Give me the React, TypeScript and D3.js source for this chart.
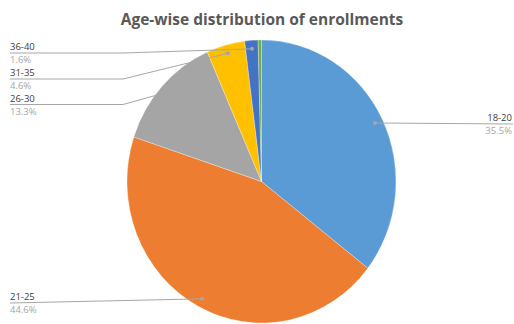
import React from "react";
import * as d3 from "d3";

const categories = ["18-20", "21-25", "26-30", "31-35", "36-40", "41+"];
const values = [35.5, 44.6, 13.3, 4.6, 1.6, 0.4];
const showLabel = [true, true, true, true, true, false];
const colors = ["#5b9bd5", "#ed7d31", "#a5a5a5", "#ffc000", "#4472c4", "#70ad47"];

// label layout: line y, side
const labelLayout: Record<string, { y: number; side: "left" | "right"; bend: boolean }> = {
  "18-20": { y: 124, side: "right", bend: false },
  "21-25": { y: 303, side: "left", bend: false },
  "26-30": { y: 104.5, side: "left", bend: true },
  "31-35": { y: 79, side: "left", bend: true },
  "36-40": { y: 53, side: "left", bend: true },
};

const W = 514;
const H = 324;
const cx = 261.5;
const cy = 181.5;
const rx = 134.5;
const ry = 141.5;
const FONT = "'Open Sans', 'Liberation Sans', sans-serif";

export default function App() {
  const data = categories.map((c, i) => ({ name: c, value: values[i], color: colors[i], show: showLabel[i] }));
  const pie = d3.pie<any>().sort(null).value((d: any) => d.value).startAngle(0).endAngle(2 * Math.PI);
  const arcs = pie(data);
  const arc = d3.arc<any>().innerRadius(0).outerRadius(ry);
  const sx = rx / ry;

  return (
    <svg width={W} height={H} style={{ position: "absolute", left: 0, top: 0, background: "#fff" }}>
      <text x={262} y={25} textAnchor="middle" fontFamily={FONT} fontWeight="bold" fontSize={15.5} fill="#595959">
        Age-wise distribution of enrollments
      </text>
      <g transform={`translate(${cx},${cy}) scale(${sx},1)`}>
        {arcs.map((a, i) => (
          <path key={i} d={arc(a) || ""} fill={a.data.color} stroke="#fff" strokeWidth={0.3} />
        ))}
      </g>
      {arcs.filter((a) => a.data.show).map((a, i) => {
        const mid = (a.startAngle + a.endAngle) / 2;
        const f = 0.94;
        const px = cx + Math.sin(mid) * rx * f;
        const py = cy - Math.cos(mid) * ry * f;
        const lay = labelLayout[a.data.name];
        const L = lay.y;
        let pts: string;
        let tx: number;
        let anchor: "start" | "end";
        if (lay.side === "right") {
          pts = `${px},${py} ${513},${L}`;
          tx = 512;
          anchor = "end";
        } else if (lay.bend) {
          pts = `${10},${L} ${123},${L} ${px},${py}`;
          tx = 10;
          anchor = "start";
        } else {
          pts = `${10},${L} ${px},${py}`;
          tx = 10;
          anchor = "start";
        }
        return (
          <g key={i}>
            <polyline points={pts} fill="none" stroke="#a6a6a6" strokeWidth={1} />
            <circle cx={px} cy={py} r={2} fill="#a6a6a6" />
            <text x={tx} y={L - 3} textAnchor={anchor} fontFamily={FONT} fontSize={9.5} fill="#404040">
              {a.data.name}
            </text>
            <text x={tx} y={L + 10} textAnchor={anchor} fontFamily={FONT} fontSize={9.5} fill="#a6a6a6">
              {a.data.value.toFixed(1)}%
            </text>
          </g>
        );
      })}
    </svg>
  );
}
